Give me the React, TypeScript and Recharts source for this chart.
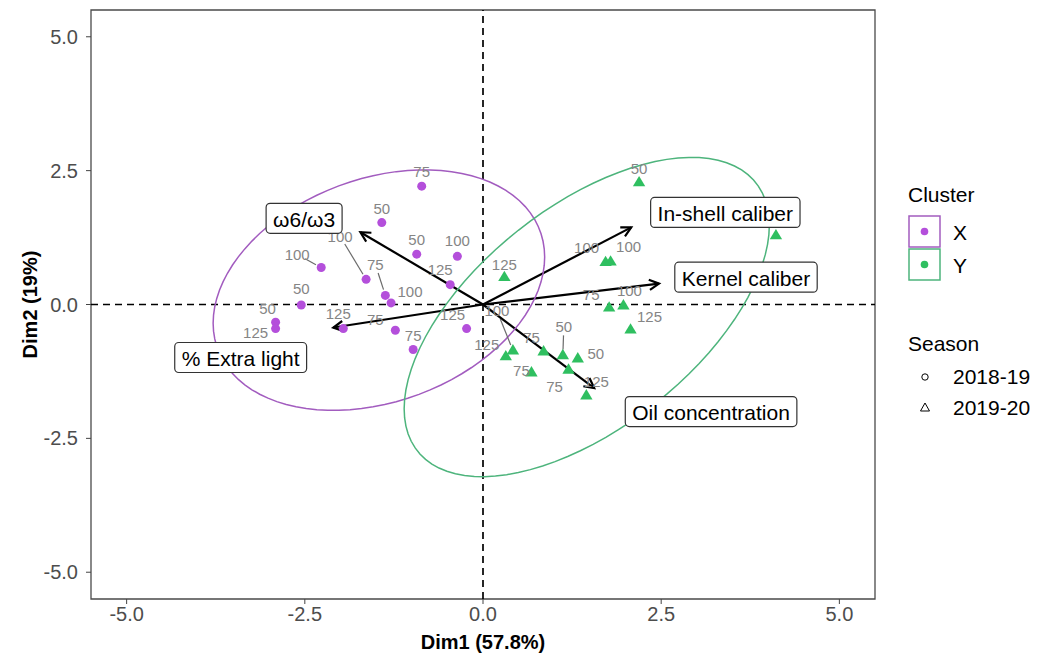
import React from 'react';
import { ScatterChart, Scatter, XAxis, YAxis, ReferenceLine, ReferenceDot, ReferenceArea } from 'recharts';

// cluster X, season 2018-19 (circles)
const xDim1 = [-0.86, -1.42, -0.93, -0.36, -2.27, -1.64, -1.37, -1.29, -0.46, -2.55, -2.91, -2.91, -1.96, -1.23, -0.98, -0.23];
const xDim2 = [2.21, 1.53, 0.94, 0.9, 0.69, 0.47, 0.17, 0.03, 0.37, -0.01, -0.33, -0.45, -0.45, -0.48, -0.84, -0.45];
const xDose = ['75', '50', '50', '100', '100', '100', '75', '100', '125', '50', '50', '125', '125', '75', '75', '125'];

// cluster Y, season 2019-20 (triangles)
const yDim1 = [2.19, 4.11, 1.72, 1.79, 0.3, 1.77, 1.97, 2.07, 0.42, 0.32, 0.85, 1.12, 1.33, 1.2, 0.68, 1.45];
const yDim2 = [2.28, 1.29, 0.79, 0.8, 0.51, -0.06, -0.02, -0.47, -0.86, -0.97, -0.88, -0.95, -1.01, -1.22, -1.27, -1.7];
const yDose = ['50', '50', '100', '100', '125', '75', '100', '125', '100', '125', '75', '50', '50', '75', '75', '125'];

// variable arrows
const varNames = ['ω6/ω3', '% Extra light', 'In-shell caliber', 'Kernel caliber', 'Oil concentration'];
const varDim1 = [-1.72, -2.1, 2.08, 2.47, 1.56];
const varDim2 = [1.35, -0.43, 1.44, 0.39, -1.56];

const axisTicks = [-5, -2.5, 0, 2.5, 5];

// where the repelled labels ended up (layout only); null = label hidden under a box in the original
const varLabelAt = [[-2.51, 1.61], [-3.4, -0.99], [3.4, 1.72], [3.69, 0.51], [3.2, -2.0]];
const xLabelOff = [[0, -15], [0, -14], [0, -15], [0, -16], [-24, -13], [-26, -43], [-10, -31], [19, -11],
  [-10, -15], [0, -17], [-8, -14], [-20, 4], [-5, -15], [-20, -11], [0, -14], [-14, -14]];
const yLabelOff = [[0, -14], null, [-19, -15], [18, -15], [0, -13], [-18, -13], [6, -15], [19, -13],
  [-16, -40], [-19, -12], [-12, -14], [1, -29], [18, -5], [-14, 17], [-10, -2], [10, -14]];

const W = 1035;
const H = 651;
const FONT = '"Liberation Sans", Arial, Helvetica, sans-serif';
const PURPLE = '#b44fdb';
const PURPLE_LINE = '#a25cbf';
const GREEN = '#2fbf60';
const GREEN_LINE = '#4db47c';

const xPts = xDim1.map((v, i) => ({ x: v, y: xDim2[i], dose: xDose[i], i }));
const yPts = yDim1.map((v, i) => ({ x: v, y: yDim2[i], dose: yDose[i], i }));

// 95% normal-theory ellipse, same as ggplot stat_ellipse(type = "norm")
function normEllipse(xs: number[], ys: number[], level = 0.95, segs = 90) {
  const n = xs.length;
  const mx = xs.reduce((a, b) => a + b, 0) / n;
  const my = ys.reduce((a, b) => a + b, 0) / n;
  let sxx = 0, syy = 0, sxy = 0;
  xs.forEach((x, i) => {
    sxx += (x - mx) ** 2;
    syy += (ys[i] - my) ** 2;
    sxy += (x - mx) * (ys[i] - my);
  });
  sxx /= n - 1; syy /= n - 1; sxy /= n - 1;
  const a = Math.sqrt(sxx);
  const b = sxy / a;
  const c = Math.sqrt(syy - b * b);
  const dfd = n - 1;
  const q = (dfd / 2) * (Math.pow(1 - level, -2 / dfd) - 1);
  const r = Math.sqrt(2 * q);
  const out = [];
  for (let k = 0; k <= segs; k++) {
    const t = (k / segs) * 2 * Math.PI;
    out.push({ x: mx + r * a * Math.cos(t), y: my + r * (b * Math.cos(t) + c * Math.sin(t)) });
  }
  return out;
}

const ellX = normEllipse(xDim1, xDim2);
const ellY = normEllipse(yDim1, yDim2);

let ctx: CanvasRenderingContext2D | null = null;
function textWidth(s: string, font: string) {
  if (!ctx) ctx = document.createElement('canvas').getContext('2d');
  if (!ctx) return s.length * 11;
  ctx.font = font;
  return ctx.measureText(s).width;
}

const NoDot = () => <g />;

const CircleDot = (p: any) => <circle cx={p.cx} cy={p.cy} r={4.5} fill={PURPLE} />;

const TriDot = (p: any) => {
  const s = 6.5;
  return (
    <polygon
      points={`${p.cx},${p.cy - s} ${p.cx - s * 0.95},${p.cy + s * 0.6} ${p.cx + s * 0.95},${p.cy + s * 0.6}`}
      fill={GREEN}
    />
  );
};

const makeLabel = (offs: (number[] | null)[]) => (p: any) => {
  const idx = p.payload ? p.payload.i : p.index;
  const off = offs[idx];
  if (!off) return <g />;
  const [dx, dy] = off;
  const lx = p.cx + dx;
  const ly = p.cy + dy;
  const len = Math.hypot(dx, dy);
  let seg = null;
  if (len > 25) {
    const ux = dx / len;
    const uy = dy / len;
    seg = <line x1={p.cx + ux * 6} y1={p.cy + uy * 6} x2={p.cx + dx - ux * 9} y2={p.cy + dy - uy * 9} stroke="#6b6b6b" strokeWidth={1.2} />;
  }
  return (
    <g>
      {seg}
      <text x={lx} y={ly} textAnchor="middle" dominantBaseline="central" fontSize={15} fontFamily={FONT} fill="#858585">
        {p.payload ? p.payload.dose : ''}
      </text>
    </g>
  );
};

const ArrowShape = (p: any) => {
  const { x1, y1, x2, y2 } = p;
  const ang = Math.atan2(y2 - y1, x2 - x1);
  const L = 11;
  const A = Math.PI / 6.5;
  const ax = x2 - L * Math.cos(ang - A);
  const ay = y2 - L * Math.sin(ang - A);
  const bx = x2 - L * Math.cos(ang + A);
  const by = y2 - L * Math.sin(ang + A);
  return (
    <g>
      <line x1={x1} y1={y1} x2={x2} y2={y2} stroke="#000" strokeWidth={2.2} />
      <polyline points={`${ax},${ay} ${x2},${y2} ${bx},${by}`} fill="none" stroke="#000" strokeWidth={2.2} />
    </g>
  );
};

const BOX_FS = 21;
const makeBox = (text: string) => (p: any) => {
  const w = textWidth(text, `${BOX_FS}px ${FONT}`) + 14;
  const h = 30;
  return (
    <g>
      <rect x={p.cx - w / 2} y={p.cy - h / 2} width={w} height={h} rx={4} fill="#fff" stroke="#333" strokeWidth={1.2} />
      <text x={p.cx} y={p.cy + 1} textAnchor="middle" dominantBaseline="central" fontSize={BOX_FS} fontFamily={FONT} fill="#000">
        {text}
      </text>
    </g>
  );
};

const legendText: React.CSSProperties = { position: 'absolute', fontSize: 21, color: '#000', lineHeight: '24px', whiteSpace: 'nowrap' };

const ChartLegend = () => (
  <>
    <div style={{ ...legendText, left: 900, top: 175 }}>Cluster</div>
    <svg style={{ position: 'absolute', left: 900, top: 207 }} width={36} height={70}>
      <rect x={1} y={1} width={31} height={31} fill="#fff" stroke={PURPLE_LINE} strokeWidth={1.5} />
      <circle cx={16.5} cy={16.5} r={3.8} fill={PURPLE} />
      <rect x={1} y={34} width={31} height={31} fill="#fff" stroke={GREEN_LINE} strokeWidth={1.5} />
      <circle cx={16.5} cy={49.5} r={3.8} fill={GREEN} />
    </svg>
    <div style={{ ...legendText, left: 945, top: 213 }}>X</div>
    <div style={{ ...legendText, left: 945, top: 246 }}>Y</div>
    <div style={{ ...legendText, left: 900, top: 324 }}>Season</div>
    <svg style={{ position: 'absolute', left: 905, top: 358 }} width={26} height={60}>
      <circle cx={12} cy={11} r={3.2} fill="none" stroke="#000" strokeWidth={1} />
      <polygon points="12,37 7.5,45 16.5,45" fill="none" stroke="#000" strokeWidth={1} />
    </svg>
    <div style={{ ...legendText, left: 945, top: 357 }}>2018-19</div>
    <div style={{ ...legendText, left: 945, top: 388 }}>2019-20</div>
  </>
);

export default function App() {
  const tickStyle = { fill: '#4d4d4d', fontSize: 20, fontFamily: FONT };
  return (
    <div style={{ position: 'relative', width: W, height: H, fontFamily: FONT }}>
      <ScatterChart width={W} height={H} margin={{ top: 2, right: 168, bottom: 0, left: 0 }}>
        <XAxis
          type="number"
          dataKey="x"
          domain={[-5.5, 5.5]}
          ticks={axisTicks}
          tickFormatter={(v: number) => v.toFixed(1)}
          allowDataOverflow
          height={60}
          tick={tickStyle}
          tickSize={5}
          tickMargin={3}
          tickLine={{ stroke: '#444' }}
          axisLine={false}
          label={{ value: 'Dim1 (57.8%)', position: 'insideBottom', offset: 10, fontWeight: 'bold', fontSize: 20, fill: '#000', fontFamily: FONT }}
        />
        <YAxis
          type="number"
          dataKey="y"
          domain={[-5.5, 5.5]}
          ticks={axisTicks}
          tickFormatter={(v: number) => v.toFixed(1)}
          allowDataOverflow
          width={83}
          tick={tickStyle}
          tickSize={5}
          tickMargin={8}
          tickLine={{ stroke: '#444' }}
          axisLine={false}
          label={{ value: 'Dim2 (19%)', angle: -90, position: 'insideLeft', offset: 22, fontWeight: 'bold', fontSize: 20, fill: '#000', fontFamily: FONT, style: { textAnchor: 'middle' } }}
        />
        <ReferenceArea x1={-5.5} x2={5.5} y1={-5.5} y2={5.5} fill="none" stroke="#4a4a4a" strokeWidth={1.3} />
        <ReferenceLine x={0} stroke="#000" strokeWidth={1.7} strokeDasharray="7 5" />
        <ReferenceLine y={0} stroke="#000" strokeWidth={1.7} strokeDasharray="7 5" />

        <Scatter data={ellX} line={{ stroke: PURPLE_LINE, strokeWidth: 1.5 }} shape={NoDot} isAnimationActive={false} />
        <Scatter data={ellY} line={{ stroke: GREEN_LINE, strokeWidth: 1.5 }} shape={NoDot} isAnimationActive={false} />

        <Scatter data={xPts} shape={CircleDot} isAnimationActive={false} />
        <Scatter data={yPts} shape={TriDot} isAnimationActive={false} />
        <Scatter data={xPts} shape={makeLabel(xLabelOff)} isAnimationActive={false} />
        <Scatter data={yPts} shape={makeLabel(yLabelOff)} isAnimationActive={false} />

        {varNames.map((name, i) => (
          <ReferenceLine
            key={name}
            segment={[{ x: 0, y: 0 }, { x: varDim1[i], y: varDim2[i] }]}
            shape={ArrowShape}
          />
        ))}
        {varNames.map((name, i) => (
          <ReferenceDot key={name} x={varLabelAt[i][0]} y={varLabelAt[i][1]} r={1} shape={makeBox(name)} />
        ))}
      </ScatterChart>
      <ChartLegend />
    </div>
  );
}
